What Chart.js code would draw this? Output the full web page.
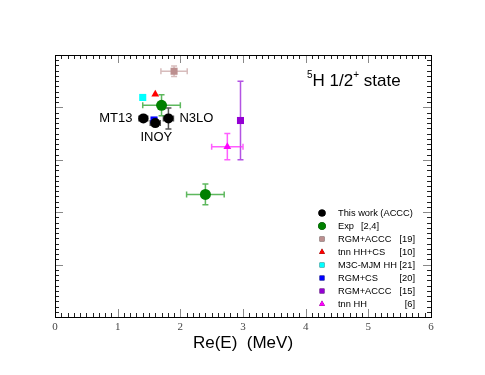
<!DOCTYPE html>
<html>
<head>
<meta charset="utf-8">
<script src="https://cdn.jsdelivr.net/npm/chart.js@4/dist/chart.umd.min.js"></script>
<style>
  body { margin: 0; background: #fff; }
  #c { display: block; }
</style>
</head>
<body>
<canvas id="c" width="485" height="375"></canvas>
<script>
// x = Re(E) in MeV, y = Im(E) in MeV
const xTicks = [0, 1, 2, 3, 4, 5, 6];

const thisWorkX = [1.41, 1.60, 1.81];
const thisWorkY = [-1.21, -1.30, -1.21];
const thisWorkXErr = [0.07, 0.08, 0.08];
const thisWorkYErr = [0.05, 0.06, 0.2];
const thisWorkNames = ["MT13", "INOY", "N3LO"];

const expX = [1.70, 2.40];
const expY = [-0.96, -2.66];
const expXErr = [0.3, 0.3];
const expYErr = [0.2, 0.2];

const rgmAccc19X = [1.90];
const rgmAccc19Y = [-0.31];
const rgmAccc19XErr = [0.21];
const rgmAccc19YErr = [0.1];

const tnnHhCsX = [1.60];
const tnnHhCsY = [-0.75];

const m3cX = [1.40];
const m3cY = [-0.81];

const rgmCsX = [1.58];
const rgmCsY = [-1.24];

const rgmAccc15X = [2.96];
const rgmAccc15Y = [-1.25];
const rgmAccc15XErr = [0];
const rgmAccc15YErr = [0.75];

const tnnHhX = [2.75];
const tnnHhY = [-1.75];
const tnnHhXErr = [0.25];
const tnnHhYErr = [0.25];

const legendNames = ["This work (ACCC)", "Exp", "RGM+ACCC", "tnn HH+CS", "M3C-MJM HH", "RGM+CS", "RGM+ACCC", "tnn HH"];
const legendRefs = ["", "[2,4]", "[19]", "[10]", "[21]", "[20]", "[15]", "[6]"];

function pts(xs, ys) {
  return xs.map((x, i) => ({ x: x, y: ys[i] }));
}

function makeSet(label, xs, ys, color, style, radius, xerr, yerr, errColor) {
  return {
    label: label,
    data: pts(xs, ys),
    backgroundColor: color,
    borderColor: color,
    pointStyle: style,
    pointRadius: radius,
    pointHoverRadius: radius,
    borderWidth: 0,
    xerr: xerr || [],
    yerr: yerr || [],
    errColor: errColor || color,
  };
}

const datasets = [
  makeSet("This work (ACCC)", thisWorkX, thisWorkY, "#000000", "circle", 5, thisWorkXErr, thisWorkYErr, "#555555"),
  makeSet("Exp", expX, expY, "#008000", "circle", 5.5, expXErr, expYErr, "rgba(40,160,40,0.75)"),
  makeSet("RGM+ACCC [19]", rgmAccc19X, rgmAccc19Y, "#bc8f8f", "rect", 5, rgmAccc19XErr, rgmAccc19YErr, "rgba(188,143,143,0.6)"),
  makeSet("tnn HH+CS", tnnHhCsX, tnnHhCsY, "#ff0000", "triangle", 4.5),
  makeSet("M3C-MJM HH", m3cX, m3cY, "#00ffff", "rect", 5),
  makeSet("RGM+CS", rgmCsX, rgmCsY, "#0000ff", "rect", 5),
  makeSet("RGM+ACCC [15]", rgmAccc15X, rgmAccc15Y, "#9400d3", "rect", 5, rgmAccc15XErr, rgmAccc15YErr, "rgba(160,40,220,0.8)"),
  makeSet("tnn HH", tnnHhX, tnnHhY, "#ff00ff", "triangle", 4.5, tnnHhXErr, tnnHhYErr, "rgba(255,40,255,0.75)"),
];

// legend marker sizes (smaller than the plotted ones)
const legendRadius = [3.6, 3.8, 3.4, 3.4, 3.4, 3.4, 3.4, 3.4];

// error bars under the markers
const errorBars = {
  id: "errorBars",
  beforeDatasetsDraw(chart) {
    const ctx = chart.ctx;
    const xs = chart.scales.x, ys = chart.scales.y;
    const cap = 3;
    ctx.save();
    ctx.lineWidth = 1.5;
    chart.data.datasets.forEach((ds) => {
      ctx.strokeStyle = ds.errColor;
      ds.data.forEach((p, i) => {
        const px = xs.getPixelForValue(p.x), py = ys.getPixelForValue(p.y);
        const ex = ds.xerr[i], ey = ds.yerr[i];
        ctx.beginPath();
        if (ex !== undefined) {
          const l = xs.getPixelForValue(p.x - ex), r = xs.getPixelForValue(p.x + ex);
          ctx.moveTo(l, py); ctx.lineTo(r, py);
          ctx.moveTo(l, py - cap); ctx.lineTo(l, py + cap);
          ctx.moveTo(r, py - cap); ctx.lineTo(r, py + cap);
        }
        if (ey !== undefined) {
          const t = ys.getPixelForValue(p.y + ey), b = ys.getPixelForValue(p.y - ey);
          ctx.moveTo(px, t); ctx.lineTo(px, b);
          ctx.moveTo(px - cap, t); ctx.lineTo(px + cap, t);
          ctx.moveTo(px - cap, b); ctx.lineTo(px + cap, b);
        }
        ctx.stroke();
      });
    });
    ctx.restore();
  },
};

// frame with inward ticks on all four sides, labels, title and legend
const decorations = {
  id: "decorations",
  afterDraw(chart) {
    const ctx = chart.ctx;
    const a = chart.chartArea;
    const xs = chart.scales.x, ys = chart.scales.y;
    ctx.save();
    ctx.lineWidth = 1;
    for (let k = 0; k <= 60; k++) {
      const v = k / 10;
      const p = Math.round(xs.getPixelForValue(v)) + 0.5;
      const major = k % 10 === 0;
      const len = major ? 8 : 4;
      ctx.strokeStyle = major ? "#888" : "#222";
      ctx.beginPath();
      ctx.moveTo(p, a.bottom); ctx.lineTo(p, a.bottom - len);
      ctx.moveTo(p, a.top); ctx.lineTo(p, a.top + len);
      ctx.stroke();
    }
    for (let k = 0; k <= 50; k++) {
      const v = -k / 10;
      const p = Math.round(ys.getPixelForValue(v)) + 0.5;
      const major = k % 10 === 0;
      const len = major ? 8 : 4;
      ctx.strokeStyle = major ? "#888" : "#222";
      ctx.beginPath();
      ctx.moveTo(a.left, p); ctx.lineTo(a.left + len, p);
      ctx.moveTo(a.right, p); ctx.lineTo(a.right - len, p);
      ctx.stroke();
    }
    ctx.strokeStyle = "#000";
    ctx.strokeRect(Math.round(a.left) + 0.5, Math.round(a.top) + 0.5, Math.round(a.right - a.left), Math.round(a.bottom - a.top));

    // potential names next to the black points
    ctx.fillStyle = "#000";
    ctx.font = "13px 'Liberation Sans', Arial, sans-serif";
    ctx.textBaseline = "middle";
    const bx = thisWorkX.map((v) => xs.getPixelForValue(v));
    const by = thisWorkY.map((v) => ys.getPixelForValue(v));
    ctx.textAlign = "right";
    ctx.fillText(thisWorkNames[0], bx[0] - 11, by[0]);
    ctx.textAlign = "center";
    ctx.fillText(thisWorkNames[1], bx[1] + 1, by[1] + 14);
    ctx.textAlign = "left";
    ctx.fillText(thisWorkNames[2], bx[2] + 11, by[2]);

    // state label
    ctx.textAlign = "left";
    ctx.textBaseline = "alphabetic";
    let tx = 307, ty = 86;
    ctx.font = "10px 'Liberation Sans', Arial, sans-serif";
    ctx.fillText("5", tx, ty - 8);
    tx += ctx.measureText("5").width;
    ctx.font = "17px 'Liberation Sans', Arial, sans-serif";
    ctx.fillText("H 1/2", tx, ty);
    tx += ctx.measureText("H 1/2").width;
    ctx.font = "10px 'Liberation Sans', Arial, sans-serif";
    ctx.fillText("+", tx, ty - 8);
    tx += ctx.measureText("+").width;
    ctx.font = "17px 'Liberation Sans', Arial, sans-serif";
    ctx.fillText(" state", tx, ty);

    // legend
    ctx.font = "9.3px 'Liberation Sans', Arial, sans-serif";
    ctx.textBaseline = "middle";
    chart.data.datasets.forEach((ds, i) => {
      const ly = 213 + i * 13;
      Chart.helpers.drawPoint(ctx, {
        pointStyle: ds.pointStyle,
        radius: legendRadius[i],
        borderWidth: 0,
      }, 322, ly);
      ctx.fillStyle = ds.backgroundColor;
      ctx.fill();
      ctx.fillStyle = "#000";
      ctx.textAlign = "left";
      ctx.fillText(legendNames[i], 338, ly);
      if (legendRefs[i]) {
        if (i === 1) {
          ctx.fillText(legendRefs[i], 361, ly);
        } else {
          ctx.textAlign = "right";
          ctx.fillText(legendRefs[i], 415, ly);
        }
      }
    });
    ctx.restore();
  },
};

new Chart(document.getElementById("c"), {
  type: "scatter",
  data: { datasets: datasets },
  options: {
    responsive: false,
    animation: false,
    layout: { padding: { left: 55, top: 55, right: 54, bottom: 0 } },
    plugins: { legend: { display: false }, tooltip: { enabled: false } },
    scales: {
      x: {
        type: "linear",
        min: 0,
        max: 6,
        grid: { display: false, drawTicks: false },
        border: { display: false },
        afterBuildTicks: (s) => { s.ticks = xTicks.map((v) => ({ value: v })); },
        afterFit: (s) => { s.height = 58; },
        ticks: {
          padding: 4,
          color: "#444",
          maxRotation: 0,
          font: { family: "'Liberation Serif', 'Times New Roman', serif", size: 11 },
        },
        title: {
          display: true,
          text: "Re(E)  (MeV)",
          color: "#000",
          padding: { top: 0, bottom: 21 },
          font: { family: "'Liberation Sans', Arial, sans-serif", size: 17 },
        },
      },
      y: {
        type: "linear",
        min: -5,
        max: 0,
        grid: { display: false, drawTicks: false },
        border: { display: false },
        ticks: { display: false },
        afterFit: (s) => { s.width = 0; },
      },
    },
  },
  plugins: [errorBars, decorations],
});
</script>
</body>
</html>
